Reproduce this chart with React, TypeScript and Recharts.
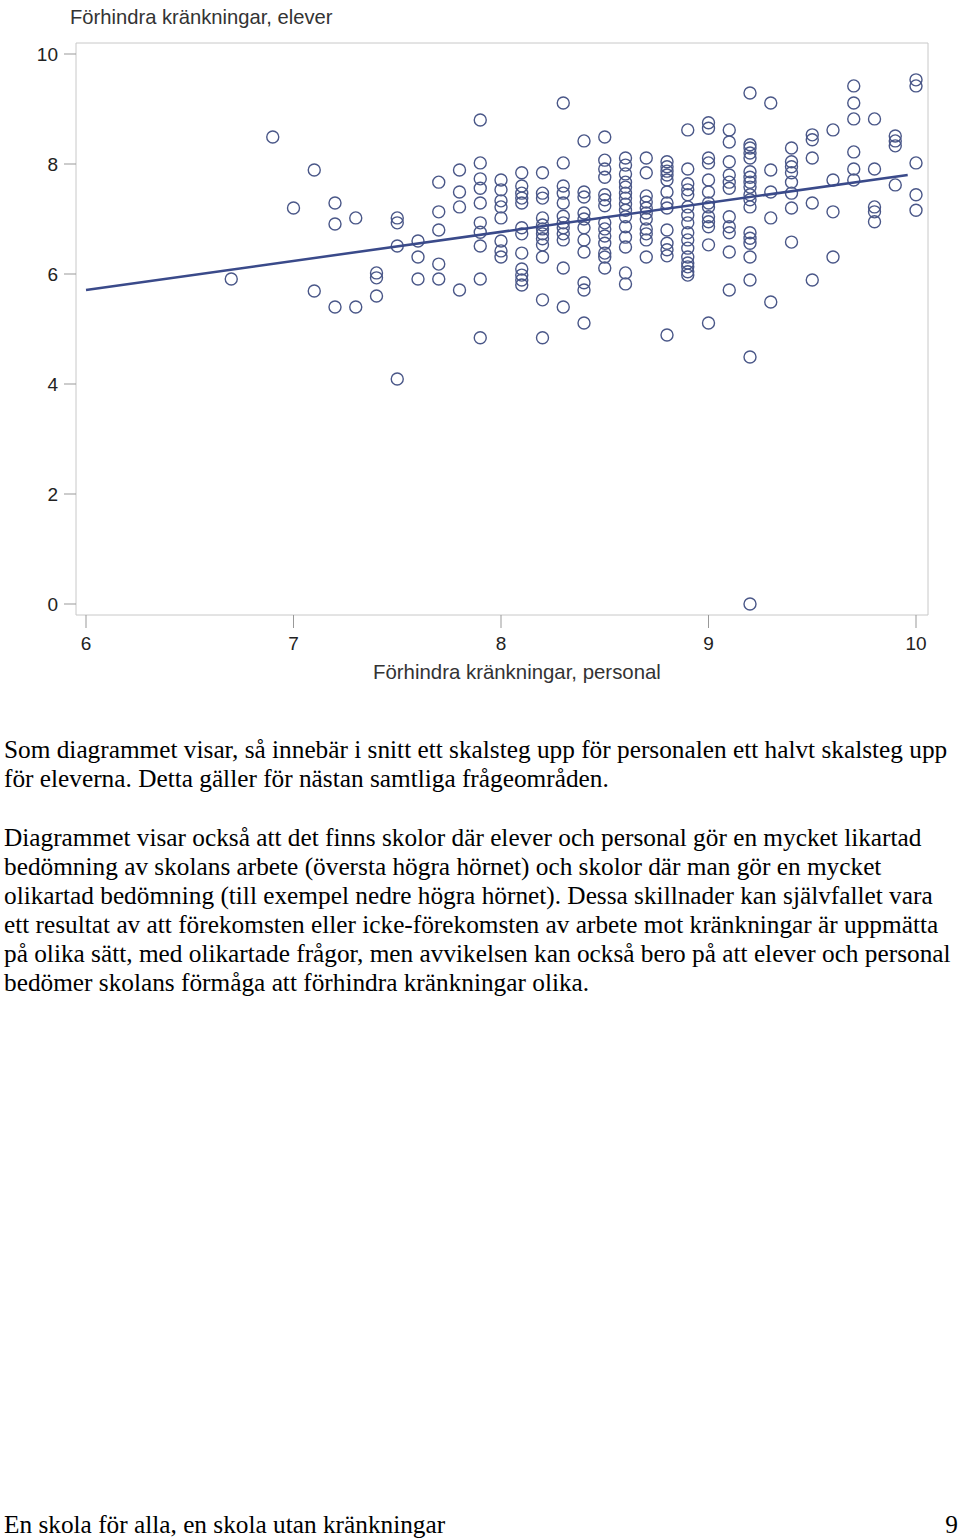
import React from 'react';
import { ScatterChart, Scatter, XAxis, YAxis, ReferenceArea } from 'recharts';

// staff score levels (x) and the student scores (y) of the schools at each level
const staffLevels = [6.7, 6.9, 7.0, 7.1, 7.2, 7.3, 7.4, 7.5, 7.6, 7.7, 7.8, 7.9, 8.0, 8.1, 8.2, 8.3, 8.4, 8.5, 8.6, 8.7, 8.8, 8.9, 9.0, 9.1, 9.2, 9.3, 9.4, 9.5, 9.6, 9.7, 9.8, 9.9, 10.0];
const studentScoresByLevel = [
    [5.91],
    [8.49],
    [7.2],
    [7.89, 5.69],
    [7.29, 6.91, 5.4],
    [7.02, 5.4],
    [6.02, 5.93, 5.6],
    [7.02, 6.93, 6.51, 4.09],
    [6.6, 6.31, 5.91],
    [7.67, 7.13, 6.8, 6.18, 5.91],
    [7.89, 7.49, 7.22, 5.71],
    [8.8, 8.02, 7.73, 7.56, 7.29, 6.93, 6.76, 6.51, 5.91, 4.84],
    [7.71, 7.53, 7.33, 7.22, 7.02, 6.6, 6.42, 6.31],
    [7.84, 7.6, 7.47, 7.38, 7.29, 6.84, 6.73, 6.38, 6.09, 5.98, 5.89, 5.8],
    [7.84, 7.47, 7.38, 7.02, 6.89, 6.82, 6.73, 6.64, 6.53, 6.31, 5.53, 4.84],
    [9.11, 8.02, 7.6, 7.47, 7.29, 7.05, 6.93, 6.84, 6.73, 6.62, 6.11, 5.4],
    [8.42, 7.49, 7.4, 7.11, 7.0, 6.84, 6.62, 6.4, 5.84, 5.71, 5.11],
    [8.49, 8.07, 7.91, 7.76, 7.44, 7.35, 7.24, 6.93, 6.82, 6.69, 6.56, 6.38, 6.31, 6.11],
    [8.11, 7.98, 7.82, 7.67, 7.58, 7.47, 7.38, 7.27, 7.16, 7.04, 6.86, 6.67, 6.49, 6.02, 5.82],
    [8.11, 7.84, 7.42, 7.31, 7.2, 7.11, 7.0, 6.82, 6.73, 6.62, 6.31],
    [8.04, 7.95, 7.87, 7.8, 7.71, 7.49, 7.29, 7.2, 6.8, 6.56, 6.44, 6.33, 4.89],
    [8.62, 7.91, 7.64, 7.53, 7.44, 7.22, 7.07, 6.93, 6.75, 6.62, 6.47, 6.31, 6.2, 6.13, 6.04, 5.98],
    [8.75, 8.65, 8.11, 8.02, 7.71, 7.49, 7.29, 7.22, 7.04, 6.95, 6.86, 6.53, 5.11],
    [8.62, 8.4, 8.04, 7.8, 7.67, 7.56, 7.04, 6.86, 6.75, 6.4, 5.71],
    [9.29, 8.35, 8.29, 8.2, 8.11, 7.86, 7.76, 7.67, 7.58, 7.44, 7.35, 7.22, 6.75, 6.65, 6.56, 6.31, 5.89, 4.49, 0.0],
    [9.11, 7.89, 7.49, 7.02, 5.49],
    [8.29, 8.04, 7.95, 7.84, 7.67, 7.47, 7.2, 6.58],
    [8.53, 8.44, 8.11, 7.29, 5.89],
    [8.62, 7.71, 7.13, 6.31],
    [9.42, 9.11, 8.82, 8.22, 7.91, 7.71],
    [8.82, 7.91, 7.22, 7.13, 6.95],
    [8.51, 8.42, 8.33, 7.62],
    [9.53, 9.42, 8.02, 7.44, 7.16],
];

// fitted regression line end points
const fitX = [6.0, 9.96];
const fitY = [5.71, 7.8];

const xTicks = [6, 7, 8, 9, 10];
const yTicks = [0, 2, 4, 6, 8, 10];

const paragraph1 = [
    'Som diagrammet visar, så innebär i snitt ett skalsteg upp för personalen ett halvt skalsteg upp',
    'för eleverna. Detta gäller för nästan samtliga frågeområden.',
];
const paragraph2 = [
    'Diagrammet visar också att det finns skolor där elever och personal gör en mycket likartad',
    'bedömning av skolans arbete (översta högra hörnet) och skolor där man gör en mycket',
    'olikartad bedömning (till exempel nedre högra hörnet). Dessa skillnader kan självfallet vara',
    'ett resultat av att förekomsten eller icke-förekomsten av arbete mot kränkningar är uppmätta',
    'på olika sätt, med olikartade frågor, men avvikelsen kan också bero på att elever och personal',
    'bedömer skolans förmåga att förhindra kränkningar olika.',
];

const points = staffLevels.flatMap((x, i) => studentScoresByLevel[i].map(y => ({ x, y })));
const fitLine = fitX.map((x, i) => ({ x, y: fitY[i] }));

const sansFont = '"Liberation Sans", Arial, sans-serif';
const serifFont = '"Liberation Serif", "Times New Roman", serif';
const axisFont = { fontFamily: sansFont, fontSize: 19, fill: '#222' };

const Ring = (props: any) => (
    <circle cx={props.cx} cy={props.cy} r={6} fill="none" stroke="#4a5788" strokeWidth={1.4} />
);

const App: React.FC = () => {
    return (
        <div style={{ position: 'relative', width: 960, height: 1539, background: '#fff' }}>
            <style>{'body{margin:0}'}</style>
            <div style={{ position: 'absolute', left: 0, top: 0 }}>
                <ScatterChart width={960} height={700} margin={{ top: 43, right: 32, bottom: 0, left: 0 }}>
                    <ReferenceArea x1={5.9518} x2={10.0578} y1={-0.2} y2={10.2} fill="none" stroke="#c8c8c8" strokeWidth={1} ifOverflow="visible" />
                    <XAxis
                        type="number"
                        dataKey="x"
                        domain={[5.9518, 10.0578]}
                        ticks={xTicks}
                        height={85}
                        axisLine={false}
                        tickSize={13}
                        tickMargin={9}
                        tickLine={{ stroke: '#999' }}
                        tick={axisFont}
                        interval={0}
                        allowDataOverflow
                    />
                    <YAxis
                        type="number"
                        dataKey="y"
                        domain={[-0.2, 10.2]}
                        ticks={yTicks}
                        width={76}
                        axisLine={false}
                        tickSize={12}
                        tickMargin={6}
                        tickLine={{ stroke: '#999' }}
                        tick={axisFont}
                        interval={0}
                        allowDataOverflow
                    />
                    <Scatter data={points} shape={Ring} isAnimationActive={false} />
                    <Scatter
                        data={fitLine}
                        line={{ stroke: '#3a4a8a', strokeWidth: 2.5 }}
                        shape={() => <g />}
                        isAnimationActive={false}
                    />
                </ScatterChart>
            </div>
            <div style={{ position: 'absolute', left: 70, top: 6, fontFamily: sansFont, fontSize: 20.2, color: '#333' }}>
                Förhindra kränkningar, elever
            </div>
            <div style={{ position: 'absolute', left: 373, top: 661, fontFamily: sansFont, fontSize: 20.4, color: '#333' }}>
                Förhindra kränkningar, personal
            </div>
            <div style={{ position: 'absolute', left: 4, top: 735, fontFamily: serifFont, fontSize: 25.3, lineHeight: '29px', color: '#000', whiteSpace: 'nowrap' }}>
                {paragraph1.map(line => <div key={line}>{line}</div>)}
                <div style={{ height: 30 }} />
                {paragraph2.map(line => <div key={line}>{line}</div>)}
            </div>
            <div style={{ position: 'absolute', left: 4, right: 2, top: 1510, fontFamily: serifFont, fontSize: 25.3, lineHeight: '29px', color: '#000', display: 'flex', justifyContent: 'space-between' }}>
                <span>En skola för alla, en skola utan kränkningar</span>
                <span>9</span>
            </div>
        </div>
    );
};

export default App;
